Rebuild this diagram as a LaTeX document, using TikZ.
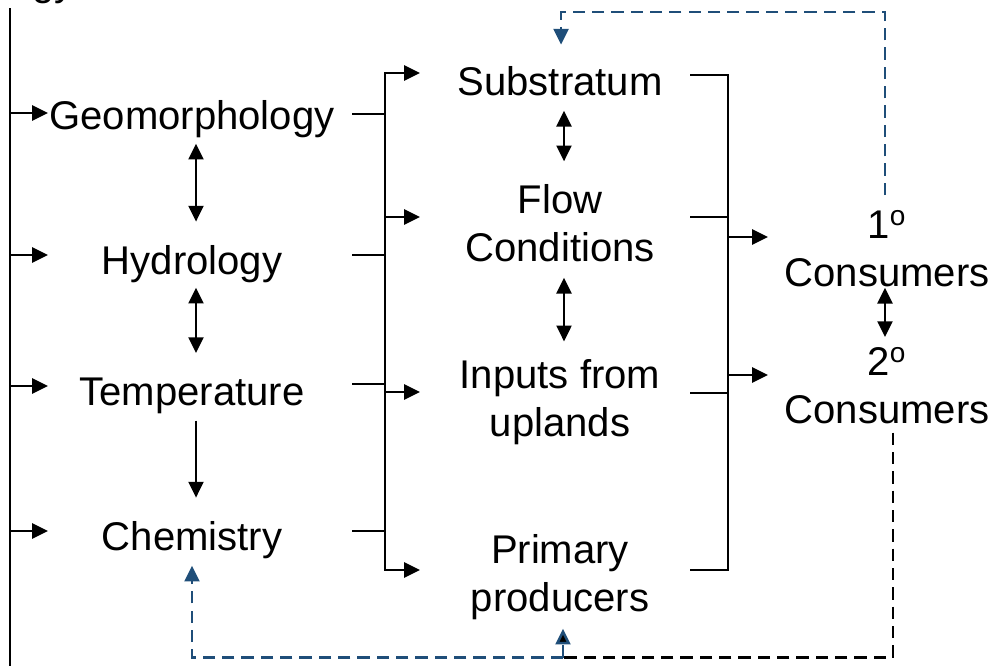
\documentclass[tikz,border=0pt]{standalone}
\usepackage{fontspec}
\setmainfont{Liberation Sans}
\usetikzlibrary{arrows.meta, calc, positioning}
\definecolor{linkblue}{HTML}{1F4E79}

\begin{document}
\begin{tikzpicture}[x=0.02cm, y=-0.02cm,
    lbl/.style={font=\fontsize{22.8}{26.9}\selectfont, inner sep=0pt, align=center, anchor=base},
    line/.style={line width=1.4pt},
    tip/.style={-{Triangle[length=9pt, width=8.5pt]}},
    arr/.style={line, tip},
    twoway/.style={line, {Triangle[length=9pt, width=8.5pt]}-{Triangle[length=9pt, width=8.5pt]}},
    fbblue/.style={line width=1.5pt, dash pattern=on 7pt off 4pt, draw=linkblue},
    fbblack/.style={line width=1.5pt, dash pattern=on 7pt off 4pt, draw=black}]
    \useasboundingbox (0,0) rectangle (993,666);

    % drivers
    \node[lbl, anchor=base east] (geol) at (75,-5) {Geology};
    \node[lbl] (geo) at (192,129) {Geomorphology};
    \node[lbl] (hyd) at (192,274) {Hydrology};
    \node[lbl] (tmp) at (192,405) {Temperature};
    \node[lbl] (chem) at (192,550) {Chemistry};

    % habitat (base = last line)
    \node[lbl] (sub) at (560,95) {Substratum};
    \node[lbl] (flow) at (560,261) {Flow\\Conditions};
    \node[lbl] (inp) at (560,436) {Inputs from\\uplands};
    \node[lbl] (prim) at (560,611) {Primary\\producers};

    % consumers
    \node[lbl] (con1) at (887,286) {1\textsuperscript{o}\\Consumers};
    \node[lbl] (con2) at (887,423) {2\textsuperscript{o}\\Consumers};

    % spine on the left
    \coordinate (spTop) at (10,8);
    \coordinate (spBot) at (10,666);
    \draw[line] (spTop) -- (spBot);
    \foreach \y in {113,255,386,531}
        \draw[arr] (spTop |- 0,\y) -- (48,\y);

    % drivers into habitat
    \draw[twoway] (420,73) -- (385,73) -- (385,570) -- (420,570);
    \foreach \y in {114,255,384,531}
        \draw[line] (352,\y) -- (385,\y);
    \foreach \y in {217,392}
        \draw[arr] (385,\y) -- (420,\y);

    % habitat into consumers
    \draw[line] (690,75) -- (728,75) -- (728,570) -- (690,570);
    \foreach \y in {217,393}
        \draw[line] (690,\y) -- (728,\y);
    \foreach \y in {237,375}
        \draw[arr] (728,\y) -- (768,\y);

    % links inside the columns
    \draw[twoway] ($(geo.south)+(4,6)$) -- ($(hyd.north)+(4,-23)$);
    \draw[twoway] ($(hyd.south)+(4,5)$) -- ($(tmp.north)+(4,-24)$);
    \draw[arr] ($(tmp.south)+(4,7)$) -- ($(chem.north)+(4,-23)$);
    \draw[twoway] ($(sub.south)+(4,15)$) -- ($(flow.north)+(4,-23)$);
    \draw[twoway] ($(flow.south)+(4,16)$) -- ($(inp.north)+(4,-18)$);
    \draw[twoway] ($(con1.south)+(-2,1)$) -- ($(con2.north)+(-2,-10)$);

    % feedbacks
    \draw[fbblue, tip]
        ($(con1.north)+(-2,-15)$) -- ++(0,-183) -| ($(sub.north)+(1,-21)$);
    \coordinate (fbCorner) at ($(prim.south)+(3,38)$);
    \draw[fbblack] ($(con2.south)+(6,9)$) |- (fbCorner);
    \draw[fbblue, -{Triangle[length=9pt, width=8.5pt, fill=black]}]
        (fbCorner) -- ($(prim.south)+(3,9)$);
    \draw[fbblue, tip]
        (fbCorner) -| ($(chem.south)+(0,7)$);
\end{tikzpicture}
\end{document}
